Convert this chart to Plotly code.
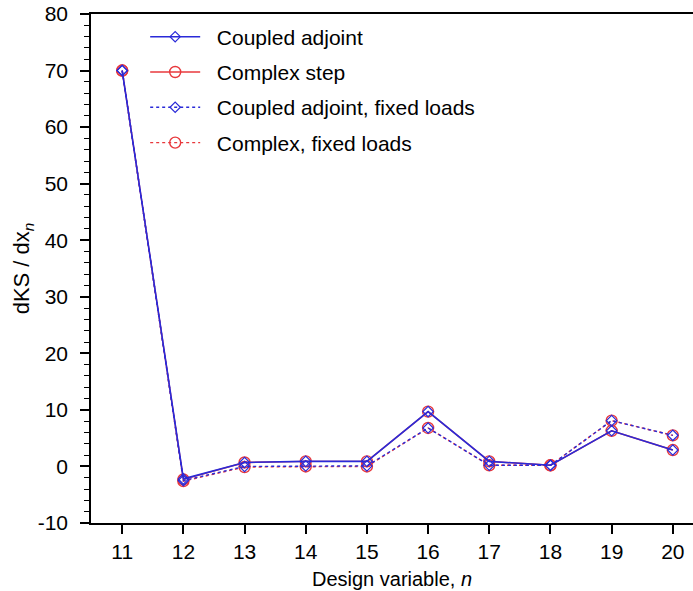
import plotly.graph_objects as go

design_var = [11, 12, 13, 14, 15, 16, 17, 18, 19, 20]
coupled_adjoint = [70.0, -2.2, 0.7, 0.9, 0.9, 9.7, 0.9, 0.2, 6.3, 2.9]
complex_step = [70.0, -2.3, 0.7, 0.9, 0.9, 9.7, 0.9, 0.2, 6.3, 2.9]
coupled_adjoint_fixed = [70.0, -2.5, 0.0, 0.1, 0.1, 6.8, 0.2, 0.2, 8.1, 5.5]
complex_fixed = [70.0, -2.6, -0.1, 0.0, 0.0, 6.8, 0.2, 0.2, 8.1, 5.5]

y_ticks = [-10, 0, 10, 20, 30, 40, 50, 60, 70, 80]
y_tick_labels = ["-10", "0", "10", "20", "30", "40", "50", "60", "70", "80"]

BLUE = "#2a2ad8"
RED = "#e8383c"
FONT = "Liberation Sans, Arial, sans-serif"
PAD = "\u00a0\u00a0"

fig = go.Figure()

# draw red first so blue lines sit on top; legendrank preserves legend order
fig.add_trace(go.Scatter(
    x=design_var, y=complex_fixed, name=PAD + "Complex, fixed loads",
    mode="lines+markers", legendrank=4, legendgroup="d",
    line=dict(color=RED, width=1.4, dash="dot"),
    marker=dict(symbol="circle-open", size=11, color=RED, line=dict(width=1.4)),
))
fig.add_trace(go.Scatter(
    x=design_var, y=complex_step, name=PAD + "Complex step",
    mode="lines+markers", legendrank=2, legendgroup="b",
    line=dict(color=RED, width=1.4),
    marker=dict(symbol="circle-open", size=11, color=RED, line=dict(width=1.4)),
))
fig.add_trace(go.Scatter(
    x=design_var, y=coupled_adjoint_fixed, name=PAD + "Coupled adjoint, fixed loads",
    mode="lines+markers", legendrank=3, legendgroup="c",
    line=dict(color=BLUE, width=1.4, dash="dot"),
    marker=dict(symbol="diamond-open", size=8, color=BLUE, line=dict(width=1.2)),
))
fig.add_trace(go.Scatter(
    x=design_var, y=coupled_adjoint, name=PAD + "Coupled adjoint",
    mode="lines+markers", legendrank=1, legendgroup="a",
    line=dict(color=BLUE, width=1.6),
    marker=dict(symbol="diamond-open", size=8, color=BLUE, line=dict(width=1.2)),
))

fig.update_layout(
    width=693, height=591,
    margin=dict(l=91, r=0, t=14, b=68),
    paper_bgcolor="white", plot_bgcolor="white",
    font=dict(family=FONT, size=20, color="black"),
    showlegend=True,
    legend=dict(
        x=0.09, y=0.995, xanchor="left", yanchor="top",
        bgcolor="rgba(0,0,0,0)", borderwidth=0,
        font=dict(family=FONT, size=21, color="black"),
        traceorder="grouped", tracegroupgap=5, itemwidth=50,
    ),
    xaxis=dict(
        range=[10.49, 20.33], tickmode="array", tickvals=design_var,
        showgrid=False, zeroline=False,
        showline=True, linecolor="black", linewidth=1.5, mirror=True,
        ticks="outside", ticklen=9, tickwidth=1.5, tickcolor="black",
        tickfont=dict(size=21),
        title=dict(text="Design variable, <i>n</i>", font=dict(size=20), standoff=10),
    ),
    yaxis=dict(
        range=[-10, 80], tickmode="array", tickvals=y_ticks, ticktext=y_tick_labels,
        showgrid=False, zeroline=False,
        showline=True, linecolor="black", linewidth=1.5,
        ticks="outside", ticklen=9, tickwidth=1.5, tickcolor="black",
        tickfont=dict(size=21), ticklabelstandoff=8,
        minor=dict(ticks="outside", ticklen=5, tickwidth=1.2, tickcolor="black", dtick=2, showgrid=False),
        title=dict(text="dKS / dx<sub><i>n</i></sub>", font=dict(size=22), standoff=2),
    ),
)

fig.write_html(
    "out.html",
    config={"displayModeBar": False},
    post_script="document.body.style.margin='0';document.body.style.overflow='hidden';",
)
